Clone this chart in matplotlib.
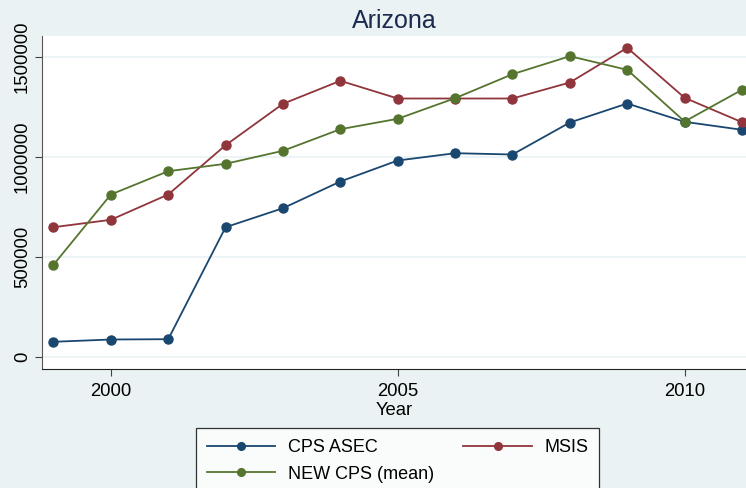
import numpy as np
import matplotlib.pyplot as plt

plt.rcParams['font.family'] = ['Liberation Sans', 'DejaVu Sans']

years = [1999, 2000, 2001, 2002, 2003, 2004, 2005, 2006, 2007, 2008, 2009, 2010, 2011]
cps_asec = [76000, 87500, 89000, 649000, 744000, 877500, 982500, 1019000, 1012500,
            1172500, 1267500, 1176000, 1136000]
msis = [649000, 686000, 812500, 1059000, 1266000, 1381000, 1292500, 1292500, 1292500,
        1372500, 1546000, 1296000, 1174000]
new_cps = [461000, 812500, 929000, 966000, 1031000, 1139000, 1191000, 1294000, 1414000,
           1504000, 1436000, 1177500, 1336000]

bg = '#eaf2f3'
navy = '#1a476f'
maroon = '#90353b'
green = '#55752f'

fig = plt.figure(figsize=(7.46, 4.88), dpi=100, facecolor=bg)
ax = fig.add_axes([42/746, 119/488, 704/746, 333/488])
ax.set_facecolor('white')

kw = dict(marker='o', markersize=6.5, linewidth=1.3, clip_on=True)
l1, = ax.plot(years, cps_asec, color=navy, label='CPS ASEC', **kw)
l2, = ax.plot(years, msis, color=maroon, label='MSIS', **kw)
l3, = ax.plot(years, new_cps, color=green, label='NEW CPS (mean)', **kw)

ax.set_xlim(1998.8, 2011.07)
ax.set_ylim(-60000, 1605000)
ax.set_xticks([2000, 2005, 2010])
ax.set_yticks([0, 500000, 1000000, 1500000])
ax.set_yticklabels(['0', '500000', '1000000', '1500000'], rotation=90, va='center')
ax.yaxis.grid(True, color=bg, linewidth=1.2)
ax.set_axisbelow(True)
ax.tick_params(labelsize=13.3, length=5, width=0.8, color='#444444')
ax.tick_params(axis='y', pad=3)
ax.tick_params(axis='x', pad=5)

for s in ['top', 'right']:
    ax.spines[s].set_visible(False)
ax.spines['left'].set_color('#555555')
ax.spines['bottom'].set_color('#222222')

ax.set_xlabel('Year', fontsize=13.3, labelpad=1.5)
ax.set_title('Arizona', fontsize=18, color='#1c2a4f', pad=6)

leg = fig.legend(handles=[l1, l3, l2], ncol=2, loc='upper left',
                 bbox_to_anchor=(196/746, 1 - 428/488), fontsize=13,
                 frameon=True, fancybox=False, edgecolor='black',
                 handlelength=3.8, handletextpad=0.67, columnspacing=1.65,
                 borderpad=0.6, labelspacing=0.55, markerscale=0.85,
                 borderaxespad=0)
leg.get_frame().set_linewidth(0.9)

fig.savefig('out.png', dpi=100, facecolor=bg)
